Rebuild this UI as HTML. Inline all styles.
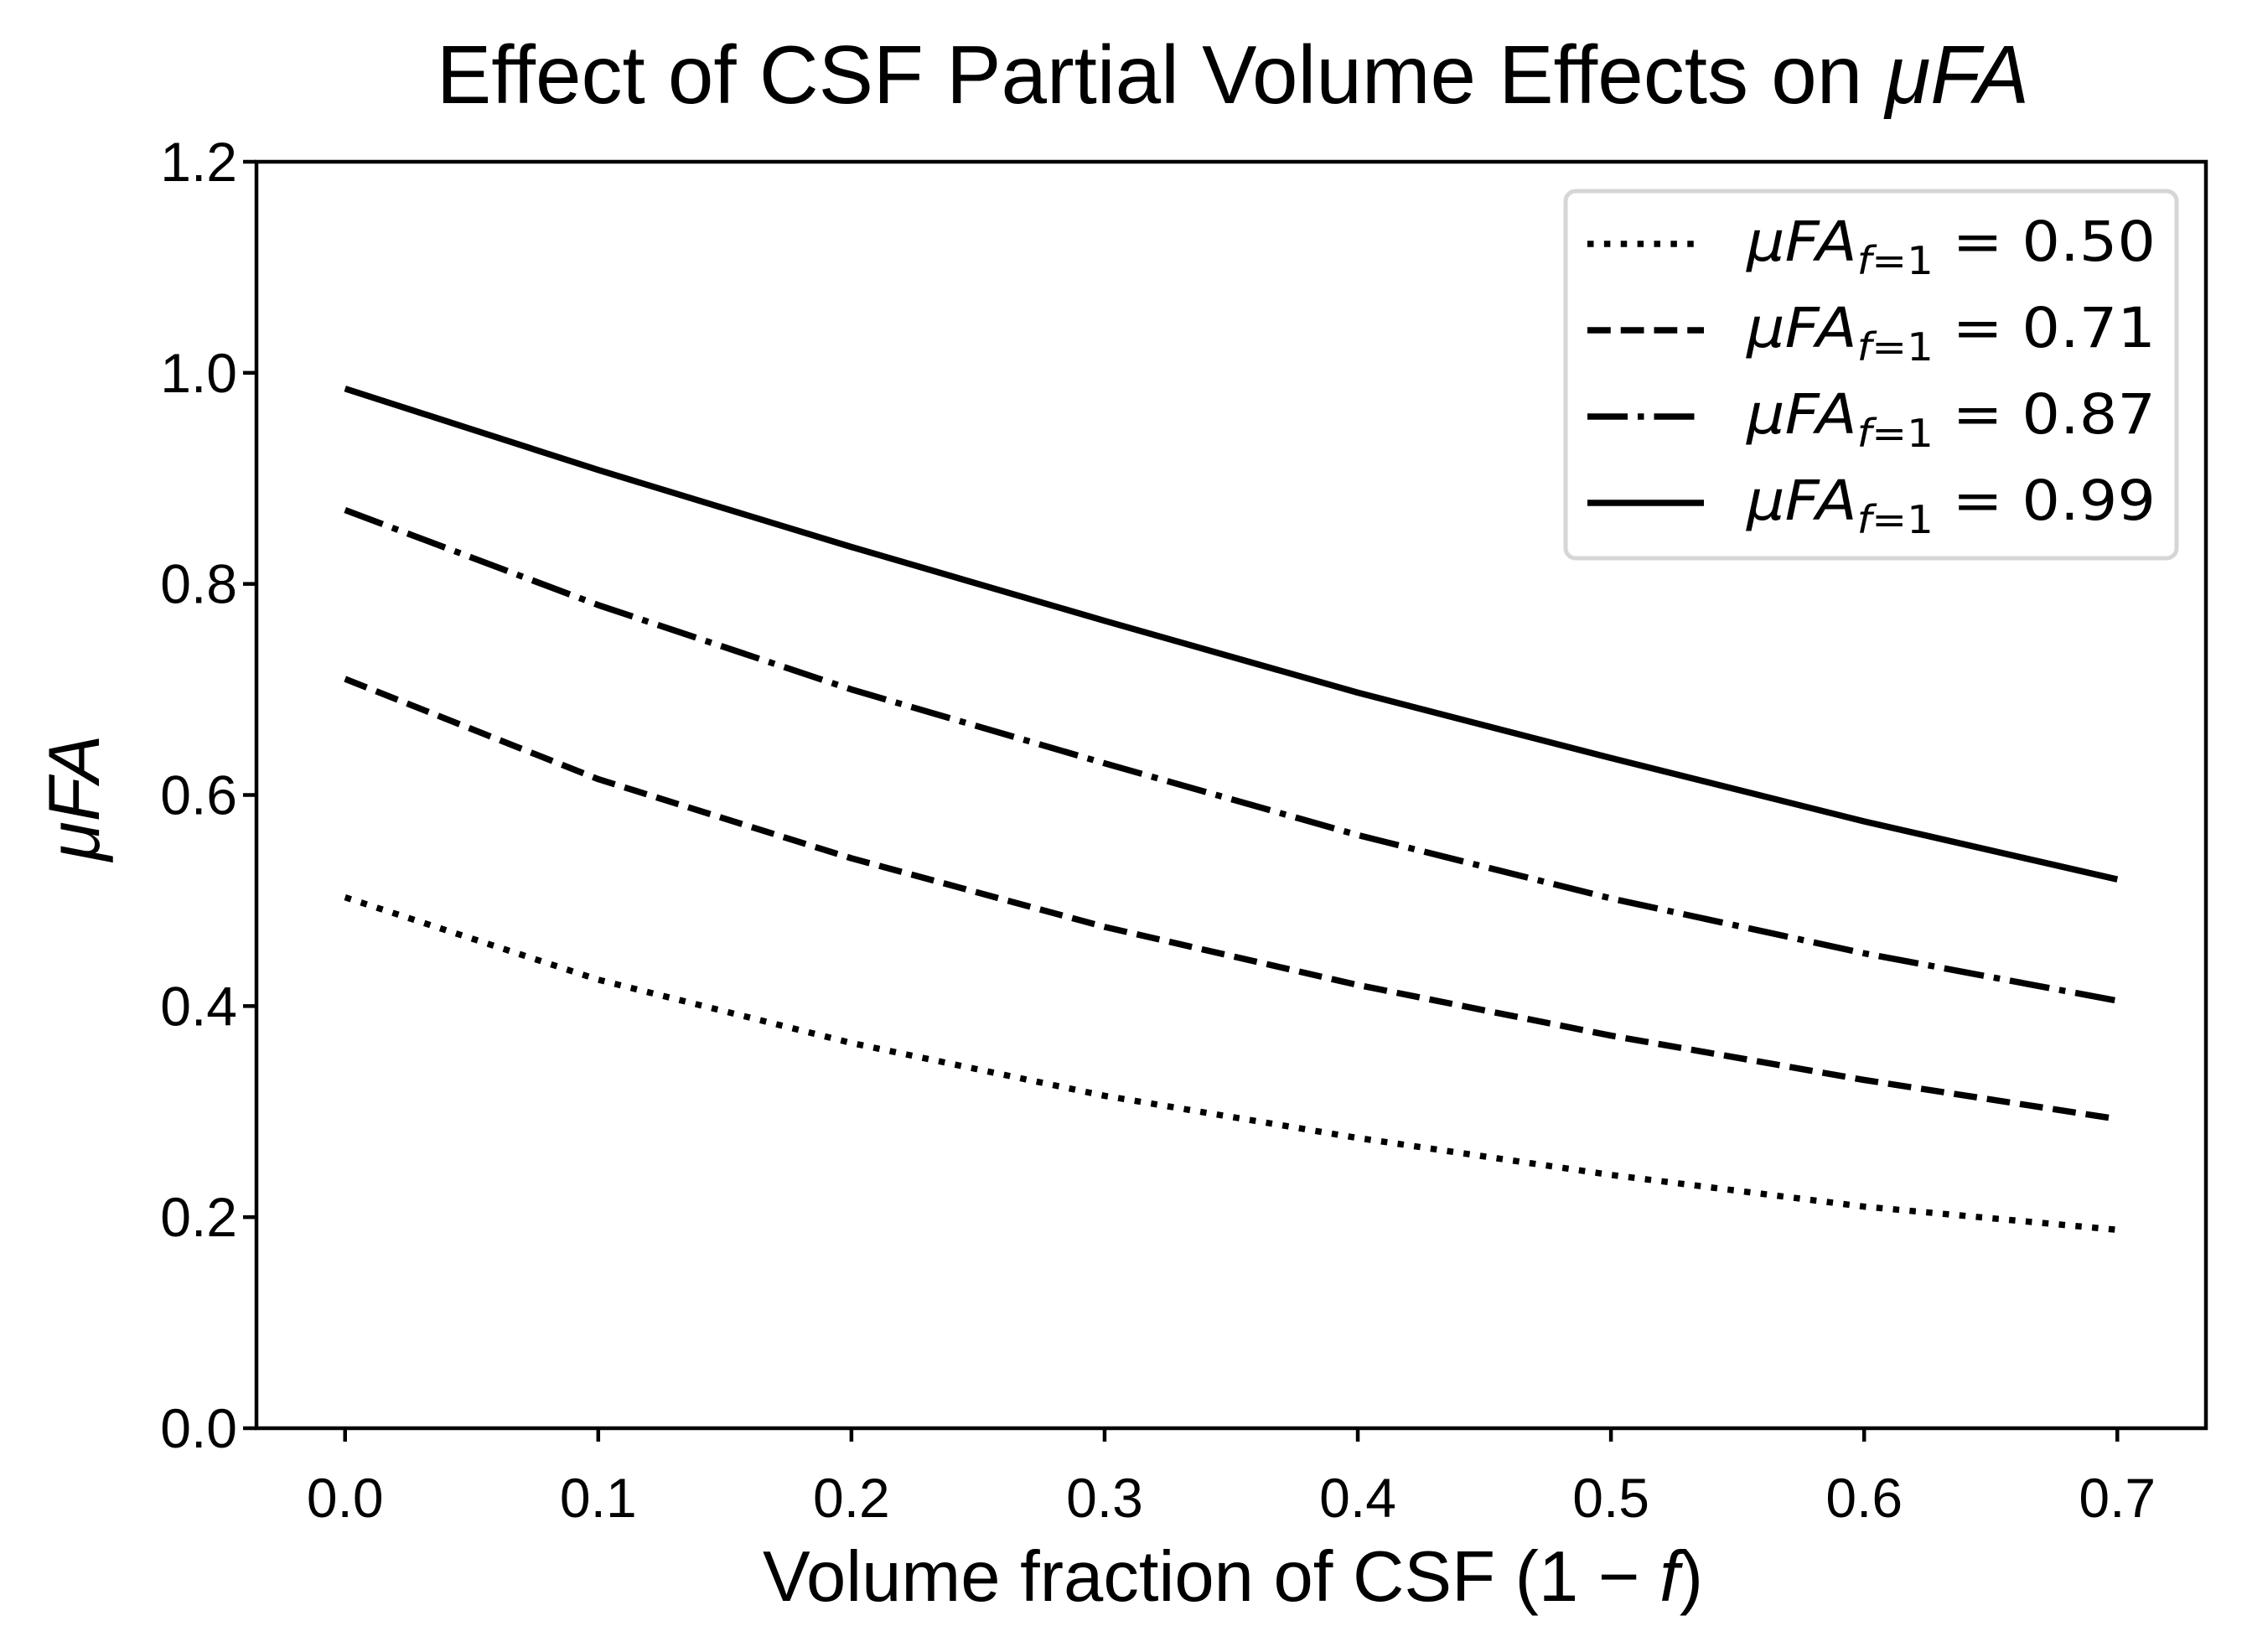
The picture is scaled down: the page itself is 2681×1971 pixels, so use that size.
<!DOCTYPE html>
<html><head><meta charset="utf-8"><style>
html,body{margin:0;padding:0;background:#fff;}
svg{display:block;}
text{font-family:"Liberation Sans",Arial,sans-serif;fill:#000;}
.math{font-family:"DejaVu Sans",sans-serif;}
</style></head><body>
<svg id="chart" width="2681" height="1971" viewBox="0 0 2681 1971" xmlns="http://www.w3.org/2000/svg">
<rect width="2681" height="1971" fill="#fff"/>
<text x="1471" y="123" font-size="98" text-anchor="middle">Effect of CSF Partial Volume Effects on <tspan font-style="italic">μFA</tspan></text>
<g id="plot"></g>
<g id="axes"></g>
<text x="1471" y="1910" font-size="85" text-anchor="middle">Volume fraction of CSF (1 − <tspan font-style="italic">f</tspan>)</text>
<text x="0" y="0" font-size="86" text-anchor="middle" font-style="italic" transform="translate(118,952) rotate(-90)">μFA</text>
<g id="legend"></g>
</svg>
<script>
const xValues = [0.0, 0.1, 0.2, 0.3, 0.4, 0.5, 0.6, 0.7];
const seriesLabels = ["0.50", "0.71", "0.87", "0.99"];
const series050 = [0.503, 0.425, 0.365, 0.315, 0.275, 0.240, 0.210, 0.188];
const series071 = [0.710, 0.615, 0.540, 0.475, 0.420, 0.372, 0.330, 0.293];
const series087 = [0.870, 0.780, 0.700, 0.630, 0.562, 0.502, 0.450, 0.405];
const series099 = [0.985, 0.908, 0.835, 0.765, 0.697, 0.635, 0.575, 0.520];
const xTicks = [0.0, 0.1, 0.2, 0.3, 0.4, 0.5, 0.6, 0.7];
const xTickLabels = ["0.0","0.1","0.2","0.3","0.4","0.5","0.6","0.7"];
const yTicks = [0.0, 0.2, 0.4, 0.6, 0.8, 1.0, 1.2];
const yTickLabels = ["0.0","0.2","0.4","0.6","0.8","1.0","1.2"];

const NS = "http://www.w3.org/2000/svg";
const L = 306, R = 2632, T = 193, B = 1704;
const xMin = -0.035, xMax = 0.735, yMin = 0, yMax = 1.2;
function xs(v){ return L + (v - xMin) / (xMax - xMin) * (R - L); }
function ys(v){ return B - (v - yMin) / (yMax - yMin) * (B - T); }
function mk(tag, attrs, parent){
  const e = document.createElementNS(NS, tag);
  for (const k in attrs) e.setAttribute(k, attrs[k]);
  parent.appendChild(e);
  return e;
}
const LW = 7.5;
const dashes = [ (1*LW)+","+(1.65*LW), (3.7*LW)+","+(1.6*LW), (6.4*LW)+","+(1.6*LW)+","+(1*LW)+","+(1.6*LW), "none" ];
const allSeries = [series050, series071, series087, series099];
const seriesNames = ["line-050", "line-071", "line-087", "line-099"];

const plot = document.getElementById("plot");
allSeries.forEach((s, i) => {
  const pts = s.map((v, j) => xs(xValues[j]).toFixed(1) + "," + ys(v).toFixed(1)).join(" ");
  const pl = mk("polyline", {points: pts, fill: "none", stroke: "#000", "stroke-width": LW, "stroke-dasharray": dashes[i], "stroke-linejoin": "round"}, plot);
  
  
});

const axes = document.getElementById("axes");
const frame = mk("rect", {x: L, y: T, width: R - L, height: B - T, fill: "none", stroke: "#000", "stroke-width": 4.5}, axes);


xTicks.forEach((v, i) => {
  const x = xs(v);
  const t = mk("line", {x1: x, x2: x, y1: B, y2: B + 16, stroke: "#000", "stroke-width": 4.5}, axes);
  
  
  const lb = mk("text", {x: x, y: 1810, "font-size": 66, "text-anchor": "middle"}, axes);
  lb.textContent = xTickLabels[i];
  
  
});
yTicks.forEach((v, i) => {
  const y = ys(v);
  const t = mk("line", {x1: L - 16, x2: L, y1: y, y2: y, stroke: "#000", "stroke-width": 4.5}, axes);
  
  
  const lb = mk("text", {x: 283, y: y + 23, "font-size": 66, "text-anchor": "end"}, axes);
  lb.textContent = yTickLabels[i];
  
  
});

const legend = document.getElementById("legend");
const box = mk("rect", {x: 1868, y: 228, width: 729, height: 438, rx: 12, fill: "#fff", stroke: "#d6d6d6", "stroke-width": 5}, legend);


seriesLabels.forEach((lab, i) => {
  const y = 291 + i * 103;
  const ln = mk("line", {x1: 1894, x2: 2033, y1: y, y2: y, stroke: "#000", "stroke-width": LW, "stroke-dasharray": dashes[i]}, legend);
  
  
  const tx = mk("text", {x: 2084, y: y + 20, "font-size": 66, "class": "math", "textLength": 488, "lengthAdjust": "spacingAndGlyphs"}, legend);
  tx.innerHTML = '<tspan font-style="italic">μFA</tspan><tspan font-style="italic" font-size="46" dy="16">f</tspan><tspan font-size="46">=1</tspan><tspan dy="-16"> = ' + lab + '</tspan>';
  
  
});
</script>
</body></html>
